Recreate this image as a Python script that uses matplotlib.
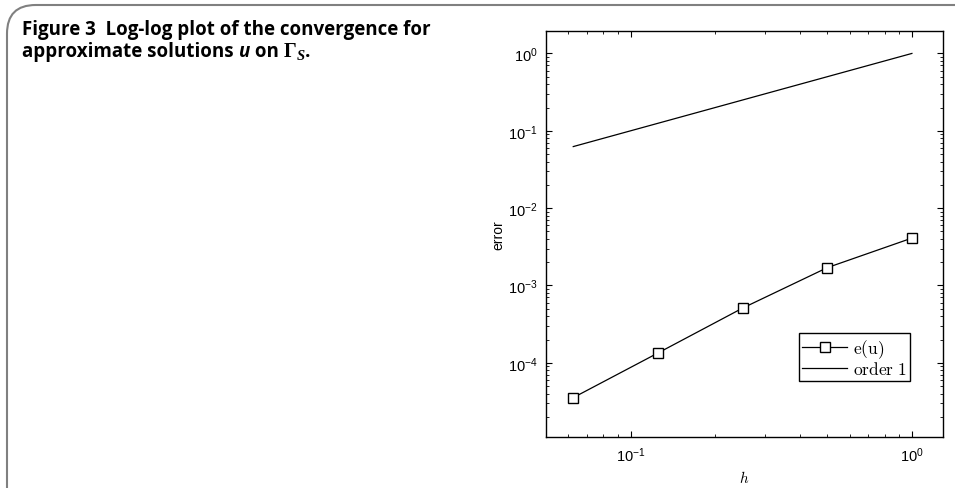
import matplotlib
matplotlib.use("Agg")
import matplotlib.pyplot as plt
from matplotlib.patches import FancyBboxPatch

plt.rcParams.update({"font.family": "Liberation Sans", "mathtext.fontset": "cm"})

# mesh sizes and errors
h = [1 / 16, 1 / 8, 1 / 4, 1 / 2, 1]
err_u = [3.55e-5, 1.34e-4, 5.1e-4, 1.7e-3, 4.1e-3]
order1 = [1 / 16, 1 / 8, 1 / 4, 1 / 2, 1]

fig = plt.figure(figsize=(9.55, 4.89), dpi=100)

# card frame: left edge with rounded top corner, top rule across
fig.add_artist(FancyBboxPatch((7 / 955, -0.2), 1.2, 1.2 - 6 / 489,
                              boxstyle="round,pad=0,rounding_size=0.03",
                              transform=fig.transFigure, fill=False,
                              ec="#808080", lw=1.5, mutation_aspect=955 / 489))

cap = dict(fontsize=13.5, fontweight="bold", family="Open Sans", va="baseline")
fig.text(22 / 955, 1 - 35 / 489, "Figure 3  Log-log plot of the convergence for", **cap)

# second caption line is pieced together: sans text, italic u, serif Gamma
pieces = [("approximate solutions ", {}),
          ("u", {"style": "italic"}),
          (" on ", {}),
          ("Γ", {"family": "Liberation Serif", "fontsize": 14.5}),
          ("S", {"family": "Liberation Serif", "style": "italic", "fontsize": 10.5, "dy": -3}),
          (".", {})]
renderer = fig.canvas.get_renderer()
x = 22
for txt, kw in pieces:
    kw = dict(kw)
    dy = kw.pop("dy", 0)
    style = dict(cap)
    style.update(kw)
    t = fig.text(x / 955, (489 - 57 + dy) / 489, txt, **style)
    bb = t.get_window_extent(renderer)
    x += bb.width

ax = fig.add_axes([546 / 955, 1 - 438 / 489, 397 / 955, 406 / 489])
ax.loglog(h, err_u, "k-", marker="s", mfc="white", mec="k", ms=6.5, lw=0.9, label=r"$\mathrm{e(u)}$")
ax.loglog(h, order1, "k-", lw=0.9, label=r"$\mathrm{order\ 1}$")
ax.set_xlim(0.05, 1.29)
ax.set_ylim(1.1e-5, 1.95)
ax.tick_params(which="both", direction="in", top=True, right=True, labelsize=10.5)
ax.tick_params(which="major", length=4, pad=6)
ax.tick_params(which="minor", length=2)
for s in ax.spines.values():
    s.set_linewidth(1.0)
ax.set_xlabel(r"$h$", fontsize=11)
ax.set_ylabel("error", fontsize=10)
ax.yaxis.set_label_coords(-0.103, 0.5)
leg = ax.legend(loc="lower right", bbox_to_anchor=(0.917, 0.138), fancybox=False,
                edgecolor="k", fontsize=12.5, handlelength=2.6, handletextpad=0.3,
                borderpad=0.2, labelspacing=0.05, borderaxespad=0, framealpha=1)
leg.get_frame().set_linewidth(1.0)

fig.savefig("out.png", dpi=100)
